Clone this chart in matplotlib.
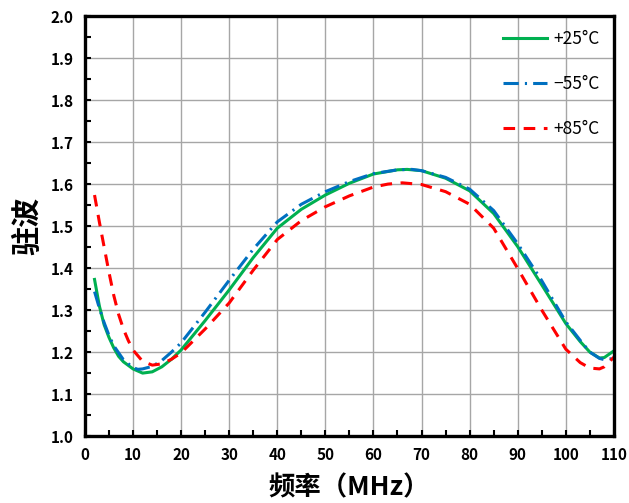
import matplotlib
matplotlib.use('Agg')
import matplotlib.pyplot as plt
from matplotlib.ticker import MultipleLocator

plt.rcParams['font.family'] = ['Noto Sans CJK SC', 'DejaVu Sans']

# +25 C
x_25 = [2, 3, 4, 5, 6, 7, 8, 10, 12, 14, 16, 18, 20, 25, 30, 35, 40, 45, 50,
        55, 60, 65, 67, 70, 75, 80, 85, 90, 95, 100, 103, 105, 107, 108, 110]
y_25 = [1.373, 1.31, 1.265, 1.235, 1.21, 1.19, 1.177, 1.160, 1.150, 1.153,
        1.165, 1.183, 1.205, 1.275, 1.348, 1.425, 1.495, 1.540, 1.574, 1.602,
        1.624, 1.634, 1.635, 1.632, 1.614, 1.584, 1.53, 1.451, 1.36, 1.268,
        1.225, 1.20, 1.186, 1.187, 1.203]

# -55 C
x_m55 = [2, 3, 4, 5, 6, 8, 10, 11, 12, 14, 16, 18, 20, 25, 30, 35, 40, 45, 50,
         55, 60, 65, 68, 70, 75, 80, 85, 90, 95, 100, 103, 105, 107, 108, 110]
y_m55 = [1.344, 1.305, 1.27, 1.24, 1.215, 1.182, 1.163, 1.159, 1.160, 1.166,
         1.180, 1.200, 1.222, 1.295, 1.371, 1.445, 1.51, 1.552, 1.582, 1.606,
         1.625, 1.634, 1.635, 1.632, 1.616, 1.588, 1.537, 1.458, 1.37, 1.272,
         1.228, 1.20, 1.185, 1.182, 1.185]

# +85 C
x_85 = [2, 3, 4, 5, 6, 7, 8, 9, 10, 12, 14, 16, 18, 20, 25, 30, 35, 40, 45, 50,
        55, 60, 63, 66, 70, 75, 80, 85, 90, 95, 100, 103, 105, 107, 108, 110]
y_85 = [1.574, 1.51, 1.45, 1.39, 1.335, 1.29, 1.255, 1.228, 1.205, 1.178,
        1.169, 1.172, 1.183, 1.198, 1.255, 1.317, 1.395, 1.468, 1.513, 1.546,
        1.572, 1.593, 1.600, 1.603, 1.599, 1.582, 1.552, 1.495, 1.399, 1.30,
        1.207, 1.175, 1.162, 1.160, 1.165, 1.188]

fig = plt.figure(figsize=(6.29, 5.03), dpi=100)
ax = fig.add_axes([0.135, 0.133, 0.841, 0.835])

ax.plot(x_25, y_25, color='#00B050', lw=2.2, label='+25°C')
ax.plot(x_m55, y_m55, color='#0070C0', lw=2.2, dashes=(5, 2, 0.7, 2), label='−55°C')
ax.plot(x_85, y_85, color='#FF0000', lw=2.2, dashes=(3.8, 2.8), label='+85°C')

ax.set_xlim(0, 110)
ax.set_ylim(1.0, 2.0)
ax.xaxis.set_major_locator(MultipleLocator(10))
ax.xaxis.set_minor_locator(MultipleLocator(5))
ax.yaxis.set_major_locator(MultipleLocator(0.1))
ax.yaxis.set_minor_locator(MultipleLocator(0.05))
ax.yaxis.set_major_formatter(plt.FuncFormatter(lambda v, p: '%.1f' % v))
ax.grid(True, which='major', color='#A6A6A6', lw=1.0)
ax.tick_params(which='both', direction='in', labelsize=11, width=1.5)
ax.tick_params(which='major', length=4, pad=8)
ax.tick_params(which='minor', length=4)
for s in ax.spines.values():
    s.set_linewidth(2.4)
for lab in ax.get_xticklabels() + ax.get_yticklabels():
    lab.set_fontweight('bold')

ax.set_xlabel('频率（MHz）', fontsize=19, fontweight='bold', labelpad=8)
ax.set_ylabel('驻波', fontsize=21, fontweight='bold', labelpad=6)

ax.legend(loc='upper right', frameon=False, fontsize=12.5, handlelength=2.5,
          handletextpad=0.4, labelspacing=1.55, borderaxespad=0.4)

plt.savefig('out.png', dpi=100)
